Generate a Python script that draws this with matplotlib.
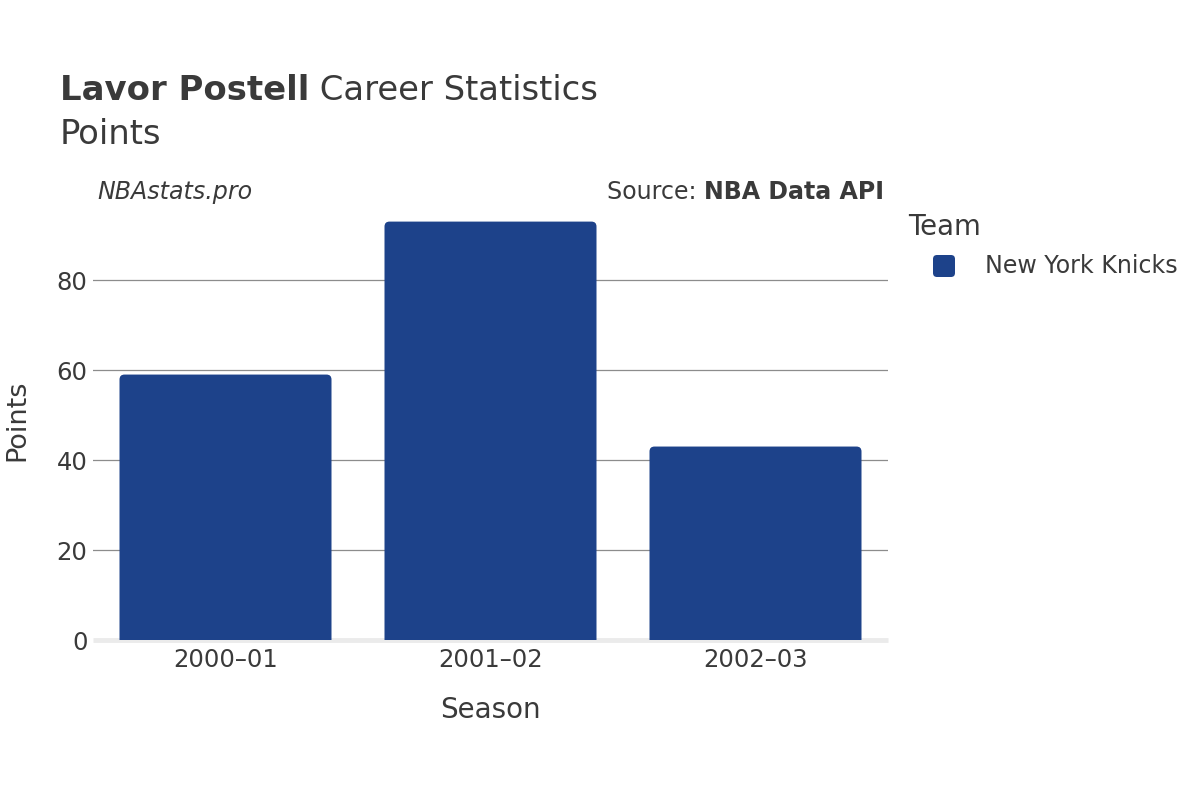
import matplotlib
matplotlib.use("Agg")
import matplotlib.pyplot as plt
from matplotlib.patches import FancyBboxPatch

seasons = ["2000\u201301", "2001\u201302", "2002\u201303"]
points = [59, 93, 43]
team = "New York Knicks"
team_color = "#1d428a"

yticks = [0, 20, 40, 60, 80]
TEXT = "#3a3a3a"

W, H = 1200, 800
plt.rcParams["font.family"] = "DejaVu Sans"

fig = plt.figure(figsize=(12, 8), dpi=100)

# axes placed to match the reference pixel box
x0, x1, y_bottom, y_top = 93, 888, 640, 200
ax = fig.add_axes([x0 / W, (H - y_bottom) / H, (x1 - x0) / W, (y_bottom - y_top) / H])
ymax = 97.8
ax.set_xlim(-0.5, len(seasons) - 0.5)
ax.set_ylim(0, ymax)

# grid
for t in yticks[1:]:
    ax.axhline(t, color="#8c8c8c", lw=0.9, zorder=1)
ax.axhline(0, color="#ebebeb", lw=3.5, zorder=1, solid_capstyle="butt", clip_on=False)

# rounded-top bars
px_x = (len(seasons)) / (x1 - x0)
px_y = ymax / (y_bottom - y_top)
r = 5 * px_x
for i, v in enumerate(points):
    bw = 0.8
    p = FancyBboxPatch((i - bw / 2, -10), bw, v + 10,
                       boxstyle=f"round,pad=0,rounding_size={r}",
                       mutation_aspect=px_y / px_x,
                       fc=team_color, ec="none", zorder=2)
    ax.add_patch(p)

for s in ax.spines.values():
    s.set_visible(False)
ax.set_xticks(range(len(seasons)))
ax.set_xticklabels(seasons)
ax.set_yticks(yticks)
ax.tick_params(axis="x", length=0, pad=6, labelsize=17.5, labelcolor=TEXT)
ax.tick_params(axis="y", length=0, pad=4, labelsize=17.5, labelcolor=TEXT)

ax.set_xlabel("Season", fontsize=20, color=TEXT, labelpad=17)
fig.text(17 / W, (H - 420) / H, "Points", rotation=90, fontsize=19.5,
         color=TEXT, ha="center", va="center")

# titles
fig.canvas.draw()
renderer = fig.canvas.get_renderer()
t1 = fig.text(60 / W, (H - 100) / H, "Lavor Postell", fontsize=24.4,
              fontweight="bold", color=TEXT, va="baseline")
bb = t1.get_window_extent(renderer)
fig.text(bb.x1 / W, (H - 100) / H, " Career Statistics", fontsize=24.4,
         color=TEXT, va="baseline")
fig.text(60 / W, (H - 144) / H, "Points", fontsize=24.4, color=TEXT, va="baseline")

fig.text(97 / W, (H - 199) / H, "NBAstats.pro", fontsize=17.1, style="italic",
         color=TEXT, va="baseline")
t2 = fig.text(884 / W, (H - 199) / H, "NBA Data API", fontsize=17.1,
              fontweight="bold", color=TEXT, va="baseline", ha="right")
bb2 = t2.get_window_extent(renderer)
fig.text(bb2.x0 / W, (H - 199) / H, "Source: ", fontsize=17.1, color=TEXT,
         va="baseline", ha="right")

# legend
fig.text(908 / W, (H - 227) / H, "Team", fontsize=19.8, color=TEXT, va="center")
fig.patches.append(FancyBboxPatch(((944 - 11) / W, (H - 266 - 11) / H), 22 / W, 22 / H,
                                  boxstyle=f"round,pad=0,rounding_size={4 / W}",
                                  mutation_aspect=W / H,
                                  transform=fig.transFigure, fc=team_color, ec="none"))
fig.text(985 / W, (H - 266) / H, team, fontsize=17.1, color=TEXT, va="center")

fig.savefig("out.png", dpi=100)
